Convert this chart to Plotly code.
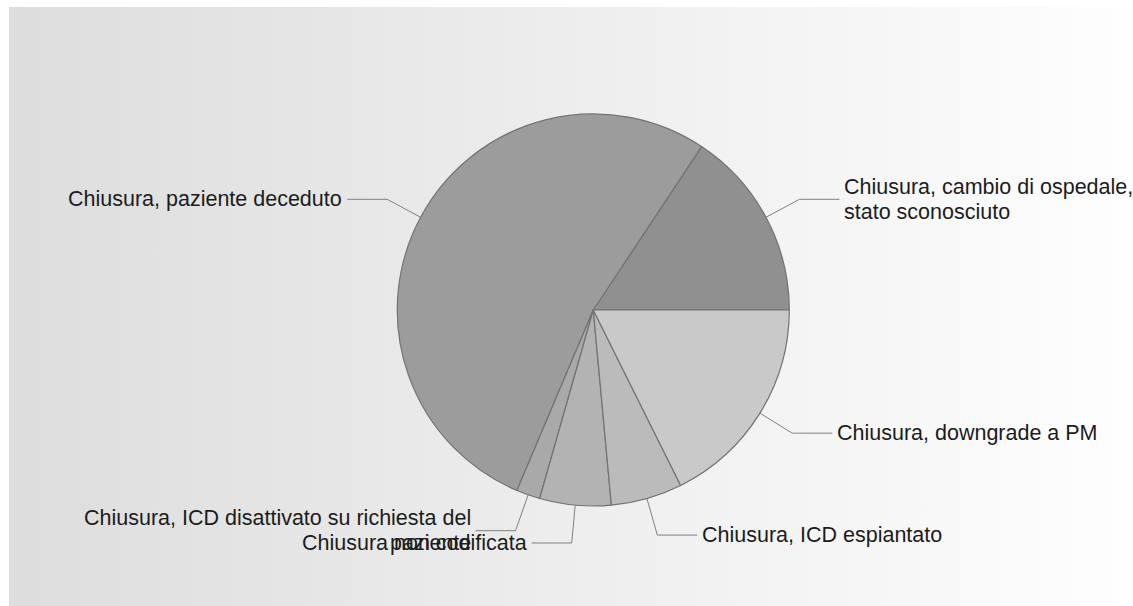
import base64
import math
import plotly.graph_objects as go

# Chiusure del follow-up: numero di pazienti per motivo
categories = [
    "Chiusura, cambio di ospedale, stato sconosciuto",
    "Chiusura, paziente deceduto",
    "Chiusura, ICD disattivato su richiesta del paziente",
    "Chiusura non codificata",
    "Chiusura, ICD espiantato",
    "Chiusura, downgrade a PM",
]
counts = [8, 27, 1, 3, 3, 9]
label_lines = [
    ["Chiusura, cambio di ospedale,", "stato sconosciuto"],
    ["Chiusura, paziente deceduto"],
    ["Chiusura, ICD disattivato su richiesta del", "paziente"],
    ["Chiusura non codificata"],
    ["Chiusura, ICD espiantato"],
    ["Chiusura, downgrade a PM"],
]
slice_colors = ["#909090", "#9c9c9c", "#a9a9a9", "#b3b3b3", "#bbbbbb", "#c9c9c9"]

W, H = 1133, 606
CX, CY, R = 593.3, 310.0, 196.0   # pie centre and radius in pixels
ELBOW = 38.0                       # radial length of the leader line
ARM = 40.0                         # horizontal length of the leader line
GAP = 4.0                          # space between leader line and text
FONT = dict(family="Liberation Sans, Arial, sans-serif", size=21.5, color="#1c1c1c")
LINE_H = 25.0


def px(x):
    return x / W


def py(y):
    return 1 - y / H


total = sum(counts)

# plotly puts the end of the first counter-clockwise slice at `rotation`;
# shift it so the first slice starts at 3 o'clock instead
start_rotation = 90 - 360.0 * counts[0] / total

fig = go.Figure()
fig.add_trace(go.Pie(
    labels=categories,
    values=counts,
    sort=False,
    direction="counterclockwise",
    rotation=start_rotation,
    marker=dict(colors=slice_colors, line=dict(color="#727272", width=1.2)),
    textinfo="none",
    textposition="none",
    showlegend=False,
    hoverinfo="label+value+percent",
    domain=dict(x=[px(CX - R), px(CX + R)], y=[py(CY + R), py(CY - R)]),
))

# leader lines and labels placed at the middle angle of each slice
cum = 0
shapes = []
annotations = []
for value, lines in zip(counts, label_lines):
    mid = math.radians(360.0 * (cum + value / 2) / total)
    cum += value
    c, s = math.cos(mid), math.sin(mid)
    x0, y0 = CX + R * c, CY - R * s
    x1, y1 = CX + (R + ELBOW) * c, CY - (R + ELBOW) * s
    side = 1 if c >= 0 else -1
    x2 = x1 + side * ARM
    path = f"M {px(x0)} {py(y0)} L {px(x1)} {py(y1)} L {px(x2)} {py(y1)}"
    shapes.append(dict(type="path", xref="paper", yref="paper", path=path,
                       line=dict(color="#808080", width=1)))
    tx = x2 + side * GAP
    top = y1 - LINE_H * (len(lines) - 1) / 2
    for i, line in enumerate(lines):
        annotations.append(dict(
            x=px(tx), y=py(top + i * LINE_H), xref="paper", yref="paper",
            text=line, showarrow=False, font=FONT,
            xanchor="left" if side > 0 else "right", yanchor="middle",
            align="left" if side > 0 else "right", borderpad=0,
        ))

# grey-to-white horizontal gradient panel behind the chart
bx0, by0 = 9, 7
bw, bh = W - bx0, H - by0
svg = (
    f"<svg xmlns='http://www.w3.org/2000/svg' width='{bw}' height='{bh}' "
    f"viewBox='0 0 {bw} {bh}' preserveAspectRatio='none'>"
    "<defs><linearGradient id='g' x1='0' y1='0' x2='1' y2='0'>"
    "<stop offset='0' stop-color='#dddddd'/>"
    "<stop offset='1' stop-color='#fefefe'/>"
    "</linearGradient></defs>"
    f"<rect x='0' y='0' width='{bw}' height='{bh}' fill='url(#g)'/></svg>"
)
bg_src = "data:image/svg+xml;base64," + base64.b64encode(svg.encode()).decode()

fig.update_layout(
    width=W, height=H,
    margin=dict(l=0, r=0, t=0, b=0),
    paper_bgcolor="#ffffff",
    plot_bgcolor="rgba(0,0,0,0)",
    shapes=shapes,
    annotations=annotations,
    images=[dict(source=bg_src, xref="paper", yref="paper",
                 x=px(bx0), y=py(by0), sizex=bw / W, sizey=bh / H,
                 xanchor="left", yanchor="top", sizing="stretch", layer="below")],
)

fig.write_html("out.html")
